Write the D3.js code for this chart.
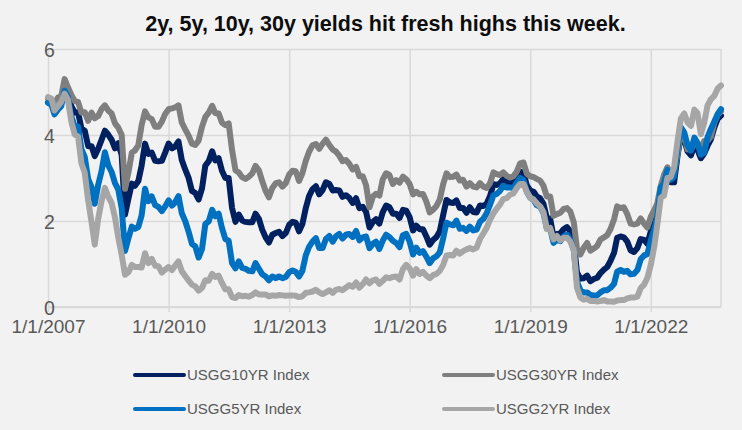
<!DOCTYPE html>
<html><head><meta charset="utf-8">
<script src="https://cdn.jsdelivr.net/npm/d3@7"></script>
<style>
html,body{margin:0;padding:0;background:#f2f2f2;}
svg{display:block;font-family:"Liberation Sans",Arial,sans-serif;}
</style></head>
<body><svg id="c" width="742" height="430"></svg>
<script>
const startMonth = "2007-01-01";
const xTickLabels = ["1/1/2007","1/1/2010","1/1/2013","1/1/2016","1/1/2019","1/1/2022"];
const yTicks = [0, 2, 4, 6];
const seriesNames = ["USGG10YR Index","USGG30YR Index","USGG5YR Index","USGG2YR Index"];
const seriesColors = ["#002060","#7f7f7f","#0070c0","#a6a6a6"];

// monthly values, Jan 2007 .. Oct 2023
const usgg10 = [
4.76,4.72,4.56,4.69,4.75,5.10,5.00,4.67,4.52,4.53,4.15,4.10,
3.74,3.74,3.51,3.68,3.88,4.10,4.01,3.89,3.69,3.81,3.53,2.15,
2.52,2.87,2.82,2.93,3.29,3.80,3.56,3.59,3.40,3.39,3.40,3.59,
3.80,3.69,3.73,3.85,3.42,3.20,3.01,2.70,2.65,2.50,2.76,3.29,
3.39,3.62,3.41,3.46,3.17,3.00,3.00,2.30,1.98,2.15,2.01,1.98,
1.97,1.97,2.17,2.05,1.80,1.62,1.50,1.68,1.72,1.75,1.65,1.72,
1.91,1.98,1.96,1.76,1.93,2.30,2.58,2.74,2.81,2.62,2.72,2.90,
2.86,2.71,2.72,2.71,2.56,2.60,2.54,2.42,2.53,2.30,2.33,2.21,
1.85,1.98,2.04,1.94,2.20,2.36,2.32,2.17,2.17,2.07,2.26,2.24,
2.09,1.78,1.89,1.81,1.81,1.64,1.45,1.56,1.63,1.76,2.14,2.49,
2.43,2.42,2.48,2.30,2.30,2.19,2.32,2.21,2.20,2.36,2.35,2.40,
2.58,2.86,2.84,2.87,2.98,2.91,2.89,2.89,3.00,3.15,3.12,2.83,
2.71,2.68,2.57,2.53,2.40,2.07,2.06,1.63,1.70,1.71,1.81,1.86,
1.76,1.50,0.80,0.66,0.67,0.73,0.60,0.65,0.68,0.79,0.87,0.93,
1.08,1.26,1.61,1.64,1.62,1.52,1.32,1.28,1.37,1.58,1.56,1.47,
1.76,1.93,2.13,2.75,2.90,3.14,2.90,2.90,3.52,3.98,3.89,3.62,
3.53,3.75,3.66,3.46,3.57,3.75,3.90,4.17,4.38,4.45];

const usgg30 = [
4.85,4.82,4.72,4.87,4.90,5.30,5.11,4.93,4.79,4.77,4.52,4.53,
4.33,4.52,4.39,4.44,4.60,4.69,4.57,4.50,4.27,4.17,4.00,2.75,
3.13,3.59,3.64,3.76,4.23,4.55,4.41,4.37,4.19,4.19,4.31,4.49,
4.60,4.62,4.64,4.69,4.29,4.13,3.99,3.80,3.77,3.87,4.19,4.42,
4.52,4.68,4.51,4.50,4.29,4.23,4.27,3.65,3.18,3.13,3.02,2.98,
3.03,3.11,3.28,3.18,2.93,2.70,2.55,2.77,2.88,2.90,2.80,2.88,
3.08,3.17,3.16,2.93,3.11,3.40,3.61,3.76,3.79,3.68,3.80,3.89,
3.77,3.66,3.62,3.52,3.39,3.42,3.33,3.20,3.26,3.04,3.04,2.83,
2.32,2.57,2.63,2.59,2.96,3.11,3.07,2.86,2.95,2.89,3.03,2.97,
2.86,2.62,2.68,2.62,2.63,2.45,2.20,2.26,2.35,2.50,2.86,3.11,
3.02,3.03,3.08,2.94,2.96,2.80,2.88,2.80,2.78,2.88,2.80,2.77,
2.88,3.13,3.09,3.07,3.13,3.05,3.01,3.04,3.15,3.34,3.36,3.10,
3.04,3.02,2.98,2.94,2.82,2.57,2.57,2.12,2.16,2.19,2.28,2.30,
2.22,1.97,1.35,1.22,1.38,1.49,1.31,1.36,1.42,1.57,1.62,1.67,
1.82,2.04,2.34,2.30,2.32,2.16,1.94,1.92,1.94,2.06,1.94,1.85,
2.10,2.25,2.41,2.81,3.07,3.25,3.10,3.13,3.56,4.04,4.00,3.66,
3.66,3.80,3.77,3.68,3.86,3.87,3.96,4.28,4.47,4.55];

const usgg5 = [
4.75,4.71,4.48,4.59,4.67,5.03,4.88,4.43,4.20,4.20,3.67,3.49,
2.98,2.78,2.40,2.84,3.15,3.60,3.30,3.14,2.88,2.73,2.29,1.30,
1.60,1.87,1.82,1.86,2.13,2.75,2.46,2.57,2.37,2.33,2.23,2.34,
2.48,2.36,2.43,2.58,2.18,2.00,1.76,1.47,1.41,1.15,1.35,1.93,
1.99,2.26,2.11,2.17,1.84,1.58,1.54,1.02,0.90,1.06,0.91,0.89,
0.84,0.83,1.02,0.89,0.76,0.71,0.62,0.71,0.67,0.71,0.67,0.70,
0.81,0.85,0.82,0.71,0.84,1.20,1.40,1.52,1.60,1.37,1.37,1.58,
1.65,1.52,1.64,1.70,1.59,1.68,1.70,1.63,1.77,1.55,1.62,1.64,
1.37,1.47,1.52,1.35,1.54,1.68,1.63,1.54,1.49,1.39,1.67,1.70,
1.52,1.22,1.38,1.26,1.30,1.17,1.02,1.13,1.18,1.27,1.60,1.96,
1.92,1.90,2.01,1.82,1.84,1.77,1.87,1.78,1.80,1.98,2.05,2.18,
2.38,2.60,2.63,2.70,2.82,2.78,2.78,2.77,2.89,3.00,2.95,2.68,
2.54,2.49,2.37,2.33,2.19,1.83,1.83,1.49,1.57,1.53,1.64,1.68,
1.56,1.32,0.59,0.39,0.34,0.34,0.28,0.27,0.27,0.34,0.39,0.39,
0.45,0.54,0.82,0.86,0.82,0.84,0.76,0.77,0.86,1.11,1.20,1.23,
1.54,1.81,2.11,2.78,2.87,3.19,2.96,3.03,3.70,4.18,4.06,3.76,
3.64,3.94,3.82,3.54,3.59,3.95,4.14,4.31,4.49,4.60];

const usgg2 = [
4.88,4.85,4.57,4.67,4.77,4.96,4.82,4.31,4.01,3.97,3.34,3.12,
2.48,1.97,1.45,2.05,2.45,2.77,2.57,2.42,2.08,1.61,1.21,0.75,
0.81,0.98,0.93,0.93,0.92,1.25,1.02,1.12,0.96,0.95,0.80,0.87,
0.93,0.86,0.96,1.06,0.83,0.72,0.62,0.52,0.48,0.38,0.45,0.62,
0.61,0.77,0.70,0.73,0.56,0.41,0.41,0.23,0.21,0.28,0.25,0.26,
0.24,0.28,0.34,0.29,0.29,0.29,0.25,0.27,0.26,0.28,0.27,0.26,
0.27,0.27,0.26,0.23,0.25,0.33,0.34,0.36,0.40,0.34,0.30,0.34,
0.39,0.33,0.40,0.42,0.39,0.45,0.51,0.47,0.57,0.45,0.53,0.64,
0.55,0.62,0.64,0.54,0.61,0.69,0.67,0.70,0.71,0.64,0.88,0.98,
0.90,0.73,0.88,0.77,0.82,0.73,0.67,0.74,0.77,0.84,0.98,1.20,
1.21,1.20,1.31,1.24,1.30,1.34,1.37,1.34,1.38,1.58,1.71,1.84,
2.03,2.18,2.28,2.38,2.51,2.53,2.61,2.64,2.77,2.86,2.86,2.68,
2.54,2.50,2.41,2.34,2.21,1.81,1.84,1.57,1.65,1.55,1.61,1.61,
1.52,1.33,0.45,0.22,0.17,0.19,0.14,0.14,0.13,0.14,0.16,0.13,
0.13,0.12,0.15,0.16,0.16,0.20,0.22,0.22,0.24,0.44,0.52,0.68,
0.98,1.40,1.91,2.54,2.59,3.00,3.02,3.25,3.86,4.38,4.50,4.29,
4.21,4.59,4.51,4.02,4.28,4.69,4.83,4.91,5.08,5.15];

const seriesValues = [usgg10, usgg30, usgg5, usgg2];

const svg = d3.select("#c");
const plot = {left: 48, right: 721, top: 49, bottom: 307};
const parse = d3.timeParse("%Y-%m-%d");
const t0 = parse(startMonth);
const monthDate = i => d3.timeMonth.offset(t0, i);
const nMonths = usgg10.length;

const x = d3.scaleTime().domain([t0, monthDate(nMonths - 1)]).range([plot.left, plot.right]);
const y = d3.scaleLinear().domain([0, 6]).range([plot.bottom, plot.top]);

const tickDates = xTickLabels.map(d3.timeParse("%m/%d/%Y"));
const gridColor = "#d9d9d9";
const textColor = "#595959";
const fontFam = "Liberation Sans, Arial, sans-serif";

// title
svg.append("text").attr("x", 385.5).attr("y", 31).attr("text-anchor", "middle")
  .attr("font-size", 21.5).attr("font-weight", "bold").attr("fill", "#0d0d0d")
  .text("2y, 5y, 10y, 30y yields hit fresh highs this week.");

// horizontal gridlines
const yGrid = d3.axisLeft(y).tickValues(yTicks).tickSize(-(plot.right - plot.left)).tickFormat("");
const gy = svg.append("g").attr("transform", `translate(${plot.left},0)`).call(yGrid);
gy.select(".domain").remove();
gy.selectAll(".tick line").attr("stroke", gridColor).attr("stroke-width", 1.5);

// vertical gridlines + x labels
const xAxis = d3.axisBottom(x).tickValues(tickDates).tickFormat((d, i) => xTickLabels[i]);
const gx = svg.append("g").attr("transform", `translate(0,${plot.bottom})`).call(xAxis);
gx.select(".domain").remove();
gx.selectAll(".tick line").attr("stroke", gridColor).attr("stroke-width", 1.5)
  .attr("y1", -(plot.bottom - plot.top)).attr("y2", 5);
gx.selectAll(".tick text").attr("y", 13).attr("dy", "0.71em").attr("fill", textColor)
  .attr("font-size", 19).style("font-family", fontFam);

// border right + bottom axis
svg.append("line").attr("x1", plot.right).attr("x2", plot.right).attr("y1", plot.top).attr("y2", plot.bottom)
  .attr("stroke", gridColor).attr("stroke-width", 1.5);
svg.append("line").attr("x1", plot.left).attr("x2", plot.right).attr("y1", plot.bottom).attr("y2", plot.bottom)
  .attr("stroke", gridColor).attr("stroke-width", 2);

// y labels drawn over the grid
const yLabels = d3.axisLeft(y).tickValues(yTicks).tickSize(0).tickFormat(d => d);
const gyl = svg.append("g").attr("transform", `translate(${plot.left},0)`).call(yLabels);
gyl.select(".domain").remove();
gyl.selectAll(".tick text").attr("x", 1.5).attr("dy", "0.36em").attr("text-anchor", "middle")
  .attr("fill", textColor).attr("font-size", 19.5).style("font-family", fontFam);

// series lines
const line = d3.line().x((d, i) => x(monthDate(i))).y(d => y(d)).curve(d3.curveLinear);
seriesValues.forEach((vals, k) => {
  svg.append("path").datum(vals).attr("d", line).attr("fill", "none")
    .attr("stroke", seriesColors[k]).attr("stroke-width", 6)
    .attr("stroke-linejoin", "round").attr("stroke-linecap", "round");
});

// legend
const legendPos = [[133, 375], [442, 375], [133, 409], [442, 409]];
seriesNames.forEach((name, k) => {
  const [lx, ly] = legendPos[k];
  svg.append("line").attr("x1", lx + 2).attr("x2", lx + 51).attr("y1", ly).attr("y2", ly)
    .attr("stroke", seriesColors[k]).attr("stroke-width", 4).attr("stroke-linecap", "round");
  svg.append("text").attr("x", lx + 54).attr("y", ly).attr("dy", "0.35em")
    .attr("font-size", 15).attr("fill", textColor).style("font-family", fontFam).text(name);
});
</script></body></html>
